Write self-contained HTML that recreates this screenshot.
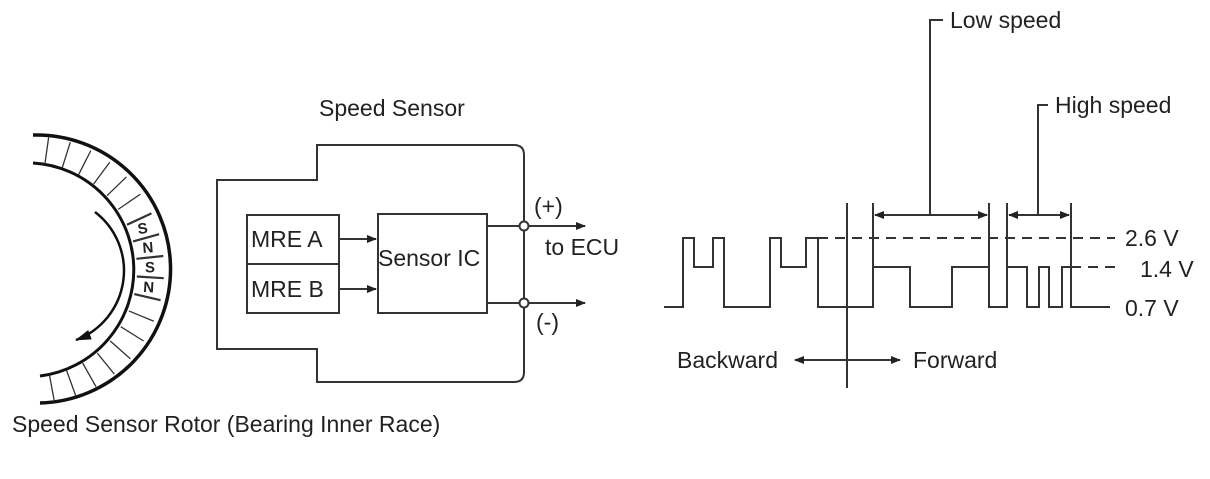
<!DOCTYPE html>
<html><head><meta charset="utf-8"><style>
body{margin:0;background:#fff}
svg text{font-family:"Liberation Sans",sans-serif;fill:#222}
</style></head><body>
<svg id="s" width="1210" height="474" viewBox="0 0 1210 474" xmlns="http://www.w3.org/2000/svg">
<defs><marker id="a" markerWidth="10" markerHeight="8" refX="9" refY="4" orient="auto" markerUnits="userSpaceOnUse"><path d="M0,0 L10,4 L0,8z" fill="#222"/></marker>
<marker id="b" markerWidth="16" markerHeight="10" refX="15" refY="5" orient="auto" markerUnits="userSpaceOnUse"><path d="M0,0 L16,5 L0,10z" fill="#111"/></marker></defs>
<g id="rot" fill="none" stroke="#111">
<path d="M33,135 A134,134 0 0 1 40,403" stroke-width="3.5"/>
<path d="M33,163 A107,107 0 0 1 40,376" stroke-width="3"/>
<path d="M95,212 A74,74 0 0 1 76,340" stroke-width="2.5" marker-end="url(#b)"/>
</g>
<g fill="none" stroke="#333" stroke-width="2">
<path d="M317,180 V145 H514 Q524,145 524,155 V372 Q524,382 514,382 H317 V349 H217 V180 Z"/>
<rect x="247" y="215" width="92" height="98"/>
<line x1="247" y1="264" x2="339" y2="264"/>
<rect x="378" y="214" width="109" height="99"/>
<line x1="339" y1="239" x2="376" y2="239" marker-end="url(#a)"/>
<line x1="339" y1="289" x2="376" y2="289" marker-end="url(#a)"/>
<line x1="487" y1="226" x2="520" y2="226"/><line x1="528" y1="226" x2="585" y2="226" marker-end="url(#a)"/>
<line x1="487" y1="303" x2="520" y2="303"/><line x1="528" y1="303" x2="585" y2="303" marker-end="url(#a)"/>
<circle cx="524" cy="226" r="4.5" fill="#fff"/><circle cx="524" cy="303" r="4.5" fill="#fff"/>
</g>
<g font-size="23">
<text x="319" y="116">Speed Sensor</text>
<text x="251" y="247">MRE A</text><text x="251" y="297">MRE B</text>
<text x="378" y="266">Sensor IC</text>
<text x="534" y="214">(+)</text><text x="545" y="255">to ECU</text><text x="536" y="330">(-)</text>
<text x="12" y="432">Speed Sensor Rotor (Bearing Inner Race)</text>
<text x="677" y="368">Backward</text><text x="913" y="368">Forward</text>
<text x="950" y="28">Low speed</text><text x="1055" y="113">High speed</text>
<text x="1125" y="246">2.6 V</text><text x="1140" y="277">1.4 V</text><text x="1125" y="316">0.7 V</text>
</g>
<g fill="none" stroke="#333" stroke-width="2">
<path d="M664,307 H683 V238 H694 V267 H713 V238 H724 V307 H770 V238 H781 V267 H806 V238 H818 V307 H873 V267 H910 V307 H952 V267 H989 V307 H1007 V267 H1027 V307 H1039 V267 H1049 V307 H1062 V267 H1071 V307 H1110"/>
<path d="M818,238 H1115 M1071,267 H1115" stroke-dasharray="10,7"/>
<line x1="847" y1="203" x2="847" y2="388"/>
<line x1="873" y1="203" x2="873" y2="307"/>
<line x1="989" y1="203" x2="989" y2="307"/>
<line x1="1007" y1="203" x2="1007" y2="267"/>
<line x1="1071" y1="203" x2="1071" y2="307"/>
<line x1="930" y1="215" x2="875" y2="215" marker-end="url(#a)"/><line x1="930" y1="215" x2="987" y2="215" marker-end="url(#a)"/>
<line x1="1038" y1="215" x2="1009" y2="215" marker-end="url(#a)"/><line x1="1038" y1="215" x2="1069" y2="215" marker-end="url(#a)"/>
<path d="M930,215 V20 H943 M1038,215 V105 H1048"/>
<line x1="847" y1="360" x2="795" y2="360" marker-end="url(#a)"/><line x1="847" y1="360" x2="900" y2="360" marker-end="url(#a)"/>
</g>
<g id="ticks" stroke="#333" stroke-width="1.3"></g>
<g id="lets" font-size="15" font-weight="bold"></g>
</svg>
<script>
var cx=30,cy=270,r1=107,r2=134,t=document.getElementById('ticks'),L=document.getElementById('lets'),ns='http://www.w3.org/2000/svg';
for(var a=-82;a<=86;a+=9.5){var d=a*Math.PI/180;var l=document.createElementNS(ns,'line');
l.setAttribute('x1',cx+r1*Math.cos(d));l.setAttribute('y1',cy+r1*Math.sin(d));l.setAttribute('x2',cx+r2*Math.cos(d));l.setAttribute('y2',cy+r2*Math.sin(d));
if(a>-26&&a<14)l.setAttribute('stroke-width','2.2');t.appendChild(l);}
var s=['S','N','S','N'];for(var i=0;i<4;i++){var a=-20+9.5*i,d=a*Math.PI/180,x=cx+120*Math.cos(d),y=cy+120*Math.sin(d);
var e=document.createElementNS(ns,'text');e.setAttribute('x',x);e.setAttribute('y',y);e.setAttribute('text-anchor','middle');e.setAttribute('dominant-baseline','central');e.setAttribute('transform','rotate('+(a*0.4)+' '+x+' '+y+')');e.textContent=s[i];L.appendChild(e);}
</script>
</body></html>
